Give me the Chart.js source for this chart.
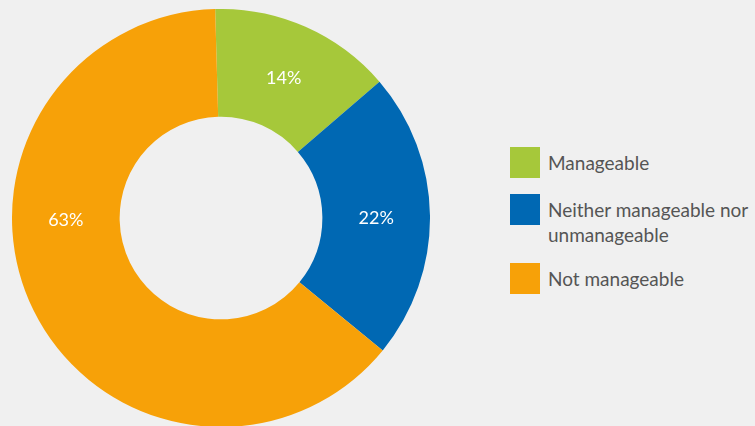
<!DOCTYPE html>
<html>
<head>
<meta charset="utf-8">
<script src="https://cdn.jsdelivr.net/npm/chart.js@4.4.1/dist/chart.umd.min.js"></script>
<style>
  html, body { margin: 0; padding: 0; background: #f0f0f0; overflow: hidden; }
  body { width: 755px; height: 426px; position: relative; font-family: Lato, "Open Sans", sans-serif; }
  #wrap { position: absolute; left: 12px; top: 9px; width: 418px; height: 418px; }
  #legend { position: absolute; left: 510px; top: 147px; color: #555555; font-size: 19px; }
  .item { display: flex; align-items: flex-start; margin-bottom: 16px; }
  .box { width: 30px; height: 31px; flex: none; margin-right: 8px; }
  .txt { line-height: 25px; padding-top: 3px; }
</style>
</head>
<body>
<div id="wrap"><canvas id="chart"></canvas></div>
<div id="legend"></div>
<script>
// categories and values
var categories = ["Manageable", "Neither manageable nor unmanageable", "Not manageable"];
var legendLines = [["Manageable"], ["Neither manageable nor", "unmanageable"], ["Not manageable"]];
var shares = [14, 22, 63];
var colours = ["#a6c83a", "#0068b3", "#f7a108"];

// draws the % inside each slice, at mid radius
// (a slice bigger than half the ring gets its label on the left, like the original)
var sliceLabels = {
  id: "sliceLabels",
  afterDatasetsDraw: function(chart){
    var ctx = chart.ctx;
    var meta = chart.getDatasetMeta(0);
    var total = shares.reduce(function(a, b){ return a + b; }, 0);
    ctx.save();
    ctx.fillStyle = "#ffffff";
    ctx.font = "18px Lato, 'Open Sans', sans-serif";
    ctx.textAlign = "center";
    ctx.textBaseline = "middle";
    meta.data.forEach(function(arc, i){
      var a = arc.getProps(["x", "y", "startAngle", "endAngle", "innerRadius", "outerRadius"], true);
      var mid = (a.startAngle + a.endAngle) / 2;
      if (shares[i] / total > 0.5) mid = Math.PI;
      var r = (a.innerRadius + a.outerRadius) / 2;
      ctx.fillText(shares[i] + "%", a.x + Math.cos(mid) * r, a.y + Math.sin(mid) * r + 2);
    });
    ctx.restore();
  }
};

var chart = new Chart(document.getElementById("chart"), {
  type: "doughnut",
  data: {
    labels: categories,
    datasets: [{
      data: shares,
      backgroundColor: colours,
      borderWidth: 0
    }]
  },
  options: {
    responsive: true,
    maintainAspectRatio: false,
    animation: false,
    cutout: "48.5%",
    rotation: -1.6,
    layout: { padding: 0 },
    plugins: {
      legend: { display: false },
      tooltip: { enabled: false }
    }
  },
  plugins: [sliceLabels]
});

// html legend built from the same arrays
var legend = document.getElementById("legend");
categories.forEach(function(c, i){
  var item = document.createElement("div");
  item.className = "item";
  var box = document.createElement("div");
  box.className = "box";
  box.style.background = colours[i];
  var txt = document.createElement("div");
  txt.className = "txt";
  txt.innerHTML = legendLines[i].join("<br>");
  item.appendChild(box);
  item.appendChild(txt);
  legend.appendChild(item);
});
</script>
</body>
</html>
